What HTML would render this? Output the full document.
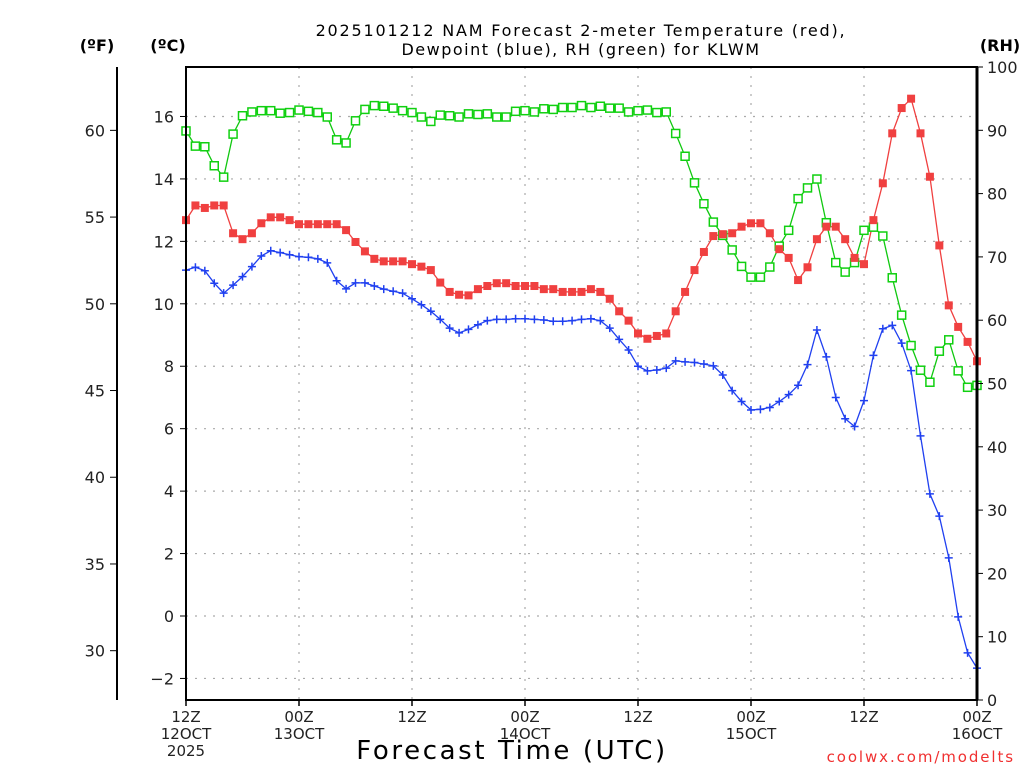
<!DOCTYPE html>
<html><head><meta charset="utf-8"><style>
body{margin:0;background:#fff}
svg{display:block}
text{font-family:"DejaVu Sans","Liberation Sans",sans-serif}
</style></head><body>
<svg id="chart" width="1024" height="768" viewBox="0 0 1024 768" xmlns="http://www.w3.org/2000/svg">
<g id="grid"></g>
<g id="series"></g>
<g id="axes"></g>
<text x="581" y="36" text-anchor="middle" font-size="16" fill="#000" letter-spacing="1.8">2025101212 NAM Forecast 2-meter Temperature (red),</text>
<text x="581" y="55" text-anchor="middle" font-size="16" fill="#000" letter-spacing="1.5">Dewpoint (blue), RH (green) for KLWM</text>
<text x="97" y="51" text-anchor="middle" font-size="16" font-weight="bold">(ºF)</text>
<text x="168" y="51" text-anchor="middle" font-size="16" font-weight="bold">(ºC)</text>
<text x="1000" y="51" text-anchor="middle" font-size="16" font-weight="bold">(RH)</text>
<text x="512" y="759" text-anchor="middle" font-size="26" letter-spacing="2.6">Forecast Time (UTC)</text>
<text x="1015" y="762" text-anchor="end" font-size="15" fill="#f03030" letter-spacing="1.9">coolwx.com/modelts</text>
</svg>
<script>
const tempC=[12.68,13.15,13.07,13.15,13.15,12.26,12.07,12.26,12.58,12.77,12.77,12.68,12.55,12.55,12.55,12.55,12.55,12.36,11.98,11.68,11.44,11.36,11.36,11.36,11.27,11.19,11.08,10.68,10.38,10.29,10.27,10.47,10.57,10.66,10.66,10.57,10.57,10.57,10.47,10.47,10.38,10.38,10.38,10.47,10.38,10.16,9.76,9.46,9.05,8.88,8.97,9.05,9.76,10.38,11.08,11.66,12.17,12.23,12.26,12.47,12.58,12.58,12.26,11.75,11.47,10.76,11.17,12.07,12.47,12.47,12.07,11.47,11.27,12.68,13.86,15.46,16.27,16.57,15.46,14.07,11.87,9.95,9.26,8.78,8.16];
const dewC=[11.08,11.17,11.06,10.66,10.34,10.6,10.87,11.19,11.53,11.7,11.64,11.57,11.51,11.49,11.44,11.31,10.74,10.48,10.67,10.67,10.57,10.47,10.4,10.34,10.16,9.97,9.76,9.5,9.22,9.07,9.18,9.33,9.46,9.5,9.5,9.52,9.52,9.5,9.48,9.44,9.44,9.46,9.5,9.52,9.46,9.22,8.86,8.52,8.0,7.85,7.88,7.94,8.17,8.14,8.12,8.07,8.01,7.72,7.22,6.87,6.6,6.62,6.68,6.87,7.09,7.39,8.05,9.16,8.3,7.0,6.32,6.07,6.9,8.35,9.2,9.31,8.74,7.86,5.77,3.91,3.2,1.86,-0.03,-1.18,-1.67];
const rh=[89.9,87.5,87.4,84.4,82.6,89.4,92.3,92.9,93.1,93.1,92.7,92.8,93.2,93.0,92.8,92.1,88.5,88.0,91.5,93.3,93.9,93.8,93.5,93.1,92.8,92.1,91.4,92.4,92.3,92.1,92.6,92.5,92.6,92.1,92.1,93.0,93.1,92.9,93.4,93.3,93.6,93.6,93.9,93.6,93.8,93.5,93.5,92.9,93.1,93.2,92.8,92.9,89.5,85.9,81.7,78.4,75.5,73.4,71.1,68.5,66.8,66.8,68.4,71.7,74.2,79.2,80.9,82.3,75.4,69.1,67.6,69.1,74.2,74.7,73.3,66.7,60.8,56.0,52.1,50.2,55.1,56.9,52.0,49.4,49.7];
const cTicks=[-2,0,2,4,6,8,10,12,14,16];
const fTicks=[30,35,40,45,50,55,60];
const rhTicks=[0,10,20,30,40,50,60,70,80,90,100];
const xTickHours=[0,12,24,36,48,60,72,84];
const xTickLabels=[["12Z","12OCT","2025"],["00Z","13OCT"],["12Z",""],["00Z","14OCT"],["12Z",""],["00Z","15OCT"],["12Z",""],["00Z","16OCT"]];

const L=186,R=977,T=67,B=700;
const xs=h=>L+(R-L)*h/84;
const yC=c=>616-c*31.22;
const yF=f=>yC((f-32)*5/9);
const yR=r=>B-(B-T)*r/100;
const NS="http://www.w3.org/2000/svg";
function mk(tag,attrs,parent,txt){const e=document.createElementNS(NS,tag);for(const k in attrs)e.setAttribute(k,attrs[k]);if(txt!==undefined)e.textContent=txt;parent.appendChild(e);return e;}
const grid=document.getElementById('grid'),axes=document.getElementById('axes'),ser=document.getElementById('series');

cTicks.forEach(c=>{
  const y=yC(c);
  const g=mk('line',{x1:L,x2:R,y1:y,y2:y,stroke:'#aaa','stroke-width':1.2,'stroke-dasharray':'2,7'},grid);
  
  
  const t=mk('line',{x1:L-6,x2:L,y1:y,y2:y,stroke:'#000','stroke-width':1},axes);
  
  
  const lb=mk('text',{x:L-12,y:y+6,'text-anchor':'end','font-size':16,fill:'#222'},axes,c<0?'\u2212'+(-c):String(c));
  
  
});
xTickHours.forEach((h,i)=>{
  const x=xs(h);
  if(h>0&&h<84){const g=mk('line',{x1:x,x2:x,y1:T,y2:B,stroke:'#aaa','stroke-width':1.2,'stroke-dasharray':'2,7'},grid);
  
  }
  const t=mk('line',{x1:x,x2:x,y1:B,y2:B+6,stroke:'#000','stroke-width':1.5},axes);
  
  
  xTickLabels[i].forEach((s,j)=>{if(!s)return;
    const lb=mk('text',{x:x,y:722+j*17,'text-anchor':'middle','font-size':15,fill:'#222'},axes,s);
    
    });
});
fTicks.forEach(f=>{
  const y=yF(f);
  const t=mk('line',{x1:110,x2:117,y1:y,y2:y,stroke:'#000','stroke-width':1},axes);
  
  
  const lb=mk('text',{x:105,y:y+6,'text-anchor':'end','font-size':16,fill:'#222'},axes,String(f));
  
  
});
rhTicks.forEach(r=>{
  const y=yR(r);
  const t=mk('line',{x1:R,x2:R+6,y1:y,y2:y,stroke:'#000','stroke-width':1},axes);
  
  
  const lb=mk('text',{x:987,y:y+6,'text-anchor':'start','font-size':16,fill:'#222'},axes,String(r));
  
  
});
const fl=mk('line',{x1:117,x2:117,y1:T,y2:B,stroke:'#000','stroke-width':2},axes);


const fr=mk('rect',{x:L,y:T,width:R-L,height:B-T,fill:'none',stroke:'#000','stroke-width':2},axes);


const rb=mk('line',{x1:R,x2:R,y1:T,y2:B,stroke:'#000','stroke-width':3},axes);



function drawLine(vals,yf,color,name){
  const pts=vals.map((v,i)=>xs(i).toFixed(1)+','+yf(v).toFixed(1)).join(' ');
  const p=mk('polyline',{points:pts,fill:'none',stroke:color,'stroke-width':1.3},ser);
  
  
}
drawLine(rh,yR,'#10c810','rh');
drawLine(tempC,yC,'#f04040','temperature');
drawLine(dewC,yC,'#2040f0','dewpoint');
rh.forEach((v,i)=>{const m=mk('rect',{x:xs(i)-4,y:yR(v)-4,width:8,height:8,fill:'#fff',stroke:'#10d010','stroke-width':1.5},ser);
  
  });
tempC.forEach((v,i)=>{const m=mk('rect',{x:xs(i)-4,y:yC(v)-4,width:8,height:8,fill:'#f04040'},ser);
  
  });
dewC.forEach((v,i)=>{const x=xs(i),y=yC(v);
  const m=mk('path',{d:`M${x-4},${y}H${x+4}M${x},${y-4}V${y+4}`,stroke:'#2040f0','stroke-width':1.5,fill:'none'},ser);
  
  });
</script>
</body></html>
